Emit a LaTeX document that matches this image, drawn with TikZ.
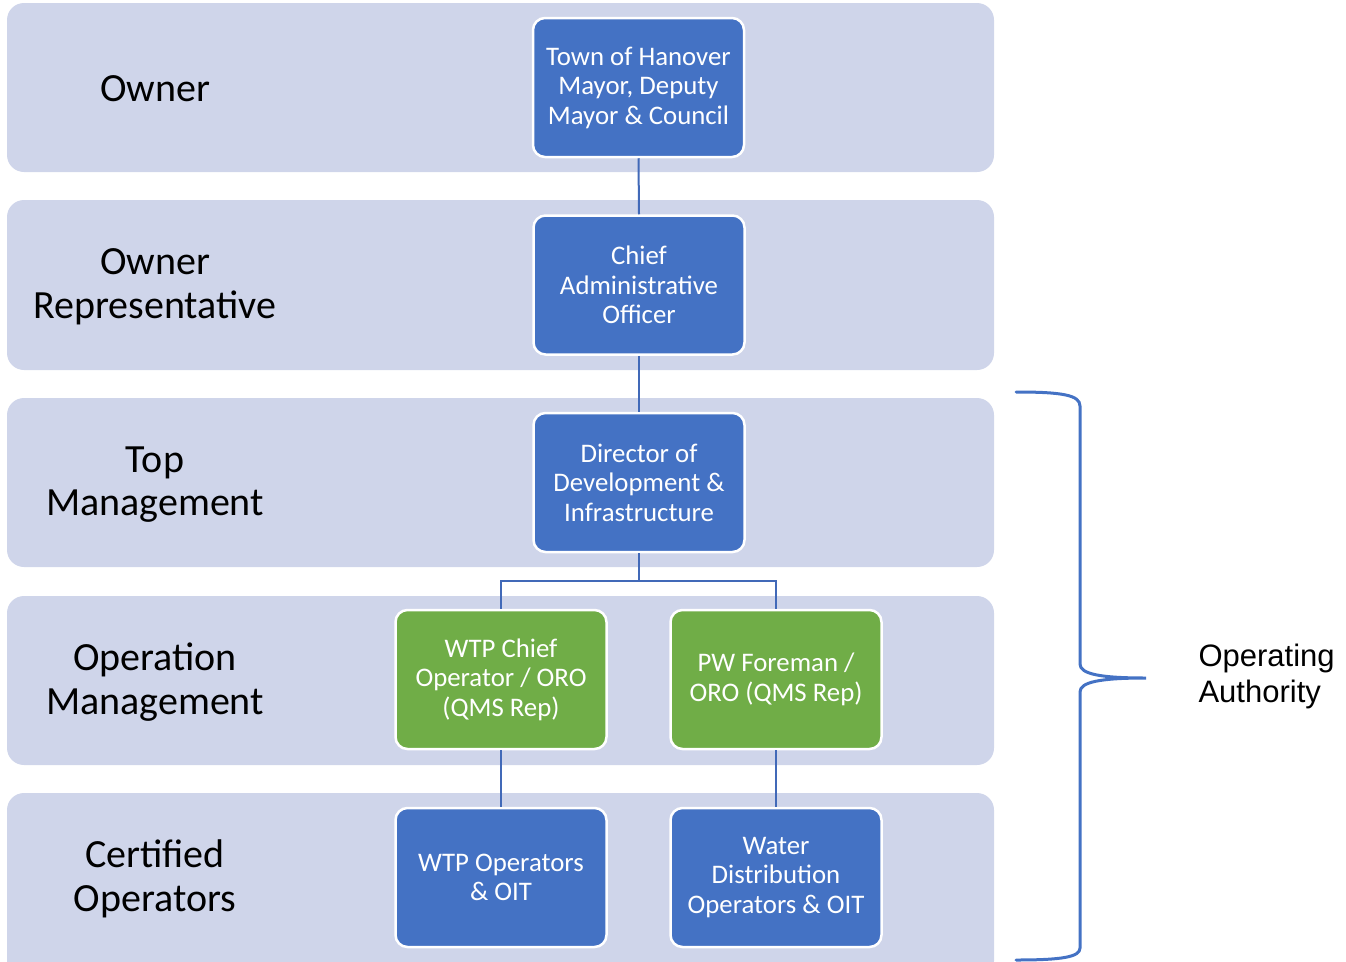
\documentclass[tikz,border=0pt]{standalone}
\usepackage{fontspec}
\setmainfont{Carlito}
\newfontfamily\arialfont{Liberation Sans}
\definecolor{band}{HTML}{CFD5EA}
\definecolor{oblue}{HTML}{4472C4}
\definecolor{ogreen}{HTML}{70AD47}
\definecolor{lineblue}{HTML}{4169B8}
\tikzset{
  bandbox/.style={fill=band, rounded corners=17pt},
  rowlabel/.style={align=center, text=black, font=\fontsize{40}{43.5}\selectfont},
  orgbox/.style={draw=white, line width=2.5pt, rounded corners=12pt, text=white,
     minimum width=211pt, minimum height=139pt, align=center, inner sep=0pt,
     font=\fontsize{26.8}{29.5}\selectfont},
  bluebox/.style={orgbox, fill=oblue},
  greenbox/.style={orgbox, fill=ogreen},
  conn/.style={draw=lineblue, line width=2pt},
  bracestyle/.style={draw=oblue, line width=3pt, line cap=round}
}
\begin{document}
\begin{tikzpicture}[x=1pt,y=-1pt]
\useasboundingbox (0,0) rectangle (1346,961);
\begin{scope}
\clip (0,0) rectangle (1346,961);
\fill[bandbox] (7,3) rectangle (994,172);
\fill[bandbox] (7,200) rectangle (994,370);
\fill[bandbox] (7,398) rectangle (994,567);
\fill[bandbox] (7,596) rectangle (994,765);
\fill[bandbox] (7,793) rectangle (994,978);
\end{scope}
\node[rowlabel] (l1) at (155,88.5) {Owner};
\node[rowlabel] (l2) at (155,286.5) {Owner\\Representative};
\node[rowlabel] (l3) at (155,484.5) {Top\\Management};
\node[rowlabel] (l4) at (155,682) {Operation\\Management};
\node[rowlabel] (l5) at (155,879) {Certified\\Operators};

\node[bluebox] (b1) at (638.5,87.5) {Town of Hanover\\Mayor, Deputy\\Mayor \& Council};
\node[bluebox] (b2) at (639,285) {Chief\\Administrative\\Officer};
\node[bluebox] (b3) at (639,482.5) {Director of\\Development \&\\Infrastructure};
\node[greenbox] (g1) at (501,679.5) {WTP Chief\\Operator / ORO\\(QMS Rep)};
\node[greenbox] (g2) at (776,679.5) {PW Foreman /\\ORO (QMS Rep)};
\node[bluebox] (o1) at (501,877.5) {WTP Operators\\\& OIT};
\node[bluebox] (o2) at (776,877.5) {Water\\Distribution\\Operators \& OIT};

\draw[conn] (b1.south) -- (b2.north);
\draw[conn] (b2.south) -- (b3.north);
\coordinate (split) at (639,581);
\draw[conn] (b3.south) -- (split);
\draw[conn] (split) -| (g1.north);
\draw[conn] (split) -| (g2.north);
\draw[conn] (g1.south) -- (o1.north);
\draw[conn] (g2.south) -- (o2.north);

\coordinate (bt) at (1016,392);
\coordinate (tip) at (1146,678);
\coordinate (bb) at (1016,960);
\draw[bracestyle] (bt) .. controls (1062,392) and (1080,395) .. (1080,406)
  -- (1080,664) .. controls (1080,674) and (1100,678) .. (tip)
  .. controls (1100,678) and (1080,682) .. (1080,692)
  -- (1080,948) .. controls (1080,957) and (1062,960) .. (bb);
\node[align=left, anchor=west, font=\arialfont\fontsize{31}{36}\selectfont] (oa) at (1195,676) {Operating\\Authority};
\end{tikzpicture}
\end{document}
